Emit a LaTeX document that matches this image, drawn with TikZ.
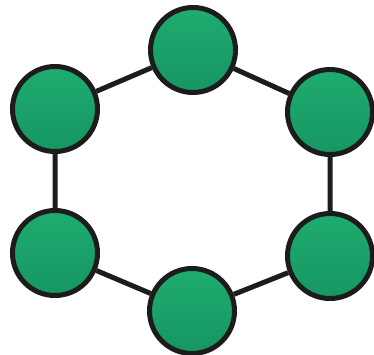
\documentclass[tikz,border=0pt]{standalone}
\begin{document}
\begin{tikzpicture}[x=1pt,y=1pt,
  nd/.style={circle,draw={rgb,255:red,28;green,28;blue,28},line width=5pt,minimum size=85pt,inner sep=0pt,
    top color={rgb,255:red,30;green,172;blue,112},bottom color={rgb,255:red,22;green,150;blue,98}},
  ln/.style={line width=5pt,draw={rgb,255:red,28;green,28;blue,28}}]
\useasboundingbox (0,0) rectangle (374,354);
\node[nd] (t) at (193,304) {};
\node[nd] (ur) at (330,242) {};
\node[nd] (lr) at (330,98) {};
\node[nd] (b) at (192,43) {};
\node[nd] (ll) at (55,101) {};
\node[nd] (ul) at (55,245) {};
\draw[ln] (t) -- (ur) -- (lr) -- (b) -- (ll) -- (ul) -- (t);
\end{tikzpicture}
\end{document}
